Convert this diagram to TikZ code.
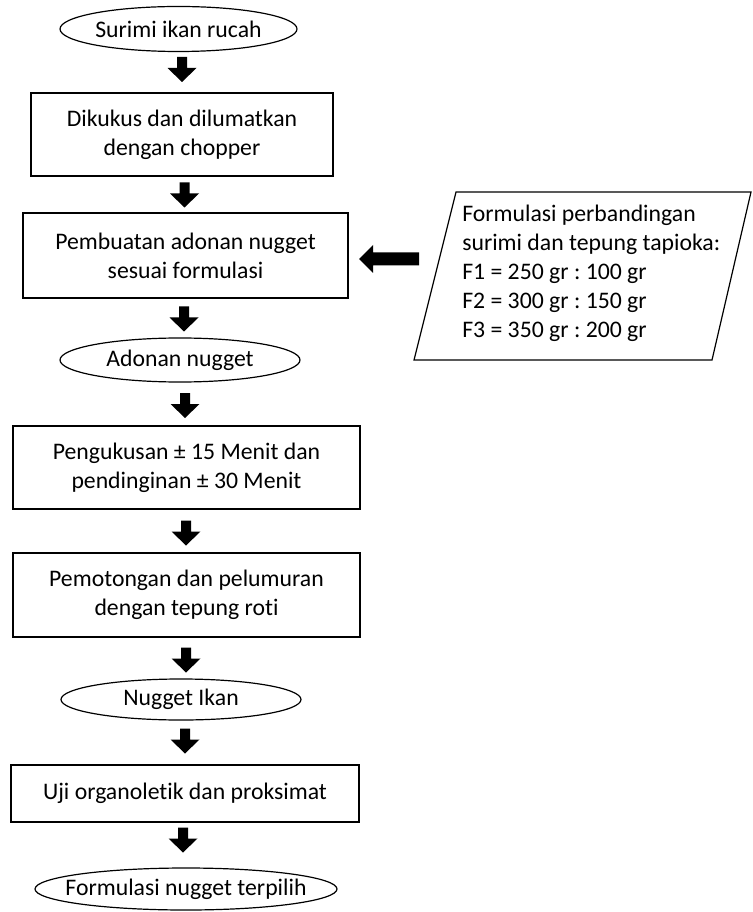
\documentclass[tikz,border=0pt]{standalone}
\usepackage{fontspec}
\setmainfont{Carlito}[Ligatures={NoCommon}]
\begin{document}
\frenchspacing
\begin{tikzpicture}[x=0.75pt,y=-0.75pt,
  every node/.style={font=\fontsize{17.8}{21.8}\selectfont, inner sep=0pt},
  box/.style={draw, line width=0.9pt, align=center},
  lbl/.style={align=center},
  oval/.style={line width=0.9pt},
  darrow/.pic={\fill (-5,-12.5) -- (5,-12.5) -- (5,-1.5) -- (14.5,-1.5) -- (0,12.5) -- (-14.5,-1.5) -- (-5,-1.5) -- cycle;},
  larrow/.pic={\fill (-30,0) -- (-16,-14) -- (-16,-6.5) -- (30,-6.5) -- (30,6.5) -- (-16,6.5) -- (-16,14) -- cycle;}
]
\useasboundingbox (0,0) rectangle (752,912);

% ovals
\node[lbl] (e1) at (178.5,29) {Surimi ikan rucah};
\draw[oval] (e1.center) ellipse (118.5 and 22.5);
\node[lbl] (e2) at (180,360) {Adonan nugget};
\draw[oval] (e2.center) ellipse (120 and 22);
\node[lbl] (e3) at (181,699.5) {Nugget Ikan};
\draw[oval] (e3.center) ellipse (120 and 20.5);
\node[lbl] (e4) at (186,889) {Formulasi nugget terpilih};
\draw[oval] (e4.center) ellipse (151 and 21);

% boxes
\node[box, minimum width=302*0.75pt, minimum height=83*0.75pt] (b1) at (182,134.5)
  {Dikukus dan dilumatkan\\dengan chopper};
\node[box, minimum width=325*0.75pt, minimum height=85*0.75pt] (b2) at (185.5,255.5)
  {Pembuatan adonan nugget\\sesuai formulasi};
\node[box, minimum width=347*0.75pt, minimum height=83*0.75pt] (b3) at (186.5,467.5)
  {Pengukusan ± 15 Menit dan\\pendinginan ± 30 Menit};
\node[box, minimum width=347*0.75pt, minimum height=84*0.75pt] (b4) at (186.5,595)
  {Pemotongan dan pelumuran\\dengan tepung roti};
\node[box, minimum width=348*0.75pt, minimum height=57*0.75pt] (b5) at (185,793.5)
  {Uji organoletik dan proksimat};

% parallelogram
\draw[line width=0.9pt] (456,192) -- (751,192) -- (712,360) -- (414,360) -- cycle;
\node[align=left, anchor=west] (f) at (462,273)
  {Formulasi perbandingan\\surimi dan tepung tapioka:\\F1 = 250 gr : 100 gr\\F2 = 300 gr : 150 gr\\F3 = 350 gr : 200 gr};

% block arrows
\pic at (182,69.5) {darrow};
\pic at (184.5,195) {darrow};
\pic at (184,319) {darrow};
\pic at (185,405.5) {darrow};
\pic at (186,533) {darrow};
\pic at (186,660) {darrow};
\pic at (185,741) {darrow};
\pic at (183,840) {darrow};
\pic at (389,259) {larrow};
\end{tikzpicture}
\end{document}
